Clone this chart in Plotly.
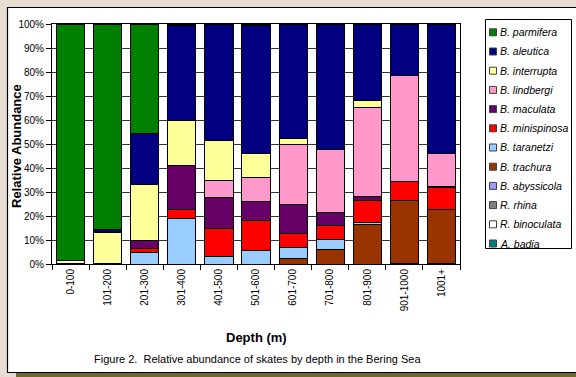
import plotly.graph_objects as go

categories = ["0-100", "101-200", "201-300", "301-400", "401-500", "501-600",
              "601-700", "701-800", "801-900", "901-1000", "1001+"]

species = ["B. parmifera", "B. aleutica", "B. interrupta", "B. lindbergi",
           "B. maculata", "B. minispinosa", "B. taranetzi", "B. trachura",
           "B. abyssicola", "R. rhina", "R. binoculata", "A. badia"]

parmifera   = [98.6, 85.6, 45.8, 0.7, 0.0, 0.6, 0.0, 0.0, 0.0, 0.0, 0.0]
aleutica    = [0.0, 1.4, 21.0, 39.3, 48.3, 53.3, 47.9, 52.1, 31.7, 21.5, 53.9]
interrupta  = [1.0, 12.6, 23.2, 19.0, 16.9, 10.1, 2.1, 0.0, 3.0, 0.0, 0.0]
lindbergi   = [0.0, 0.0, 0.0, 0.0, 6.9, 10.0, 25.1, 26.4, 37.2, 44.2, 14.0]
maculata    = [0.4, 0.4, 3.5, 18.1, 12.9, 8.0, 12.1, 5.5, 1.7, 0.0, 0.4]
minispinosa = [0.0, 0.0, 1.6, 3.9, 11.8, 12.4, 6.0, 5.7, 9.0, 7.9, 9.0]
taranetzi   = [0.0, 0.0, 4.9, 19.0, 3.1, 5.6, 4.4, 4.2, 0.9, 0.0, 0.0]
trachura    = [0.0, 0.0, 0.0, 0.0, 0.0, 0.0, 2.4, 6.1, 16.5, 26.1, 22.6]
abyssicola  = [0.0, 0.0, 0.0, 0.0, 0.0, 0.0, 0.0, 0.0, 0.0, 0.3, 0.3]
rhina       = [0.0] * 11
binoculata  = [0.0] * 11
badia       = [0.0] * 11

y_ticks = [0, 10, 20, 30, 40, 50, 60, 70, 80, 90, 100]
y_tick_labels = ["0%", "10%", "20%", "30%", "40%", "50%", "60%", "70%", "80%", "90%", "100%"]

colors = {
    "B. parmifera": "#008000", "B. aleutica": "#000080", "B. interrupta": "#FFFF99",
    "B. lindbergi": "#FF99CC", "B. maculata": "#660066", "B. minispinosa": "#FF0000",
    "B. taranetzi": "#99CCFF", "B. trachura": "#993300", "B. abyssicola": "#9999FF",
    "R. rhina": "#808080", "R. binoculata": "#FFFFFF", "A. badia": "#008080",
}
values = {
    "B. parmifera": parmifera, "B. aleutica": aleutica, "B. interrupta": interrupta,
    "B. lindbergi": lindbergi, "B. maculata": maculata, "B. minispinosa": minispinosa,
    "B. taranetzi": taranetzi, "B. trachura": trachura, "B. abyssicola": abyssicola,
    "R. rhina": rhina, "R. binoculata": binoculata, "A. badia": badia,
}

W, H = 576, 377
FONT = "Liberation Sans, Arial, sans-serif"

fig = go.Figure()
# stack from bottom (A. badia) to top (B. parmifera)
for name in reversed(species):
    fig.add_trace(go.Bar(
        x=categories, y=values[name], name=name, showlegend=False,
        marker=dict(color=colors[name], line=dict(color="#000000", width=1)),
    ))

px = lambda v: v / W
py = lambda v: 1 - v / H

shapes = [
    # shadow
    dict(type="rect", xref="paper", yref="paper", x0=px(16), x1=px(576), y0=py(377), y1=py(372),
         fillcolor="#6B6B30", line=dict(width=0), layer="below"),
    # white panel
    dict(type="rect", xref="paper", yref="paper", x0=px(7.5), x1=px(580), y0=py(372.5), y1=py(7.5),
         fillcolor="#FFFFFF", line=dict(color="#000000", width=1.2), layer="below"),
    # legend box
    dict(type="rect", xref="paper", yref="paper", x0=px(485.5), x1=px(571.5), y0=py(248.5), y1=py(19.5),
         fillcolor="#FFFFFF", line=dict(color="#000000", width=1)),
]

annotations = [
    dict(text="Figure 2.  Relative abundance of skates by depth in the Bering Sea",
         xref="paper", yref="paper", x=px(257), y=py(359), showarrow=False,
         font=dict(family=FONT, size=11, color="#000000"), xanchor="center", yanchor="middle"),
    dict(text="<b>Depth (m)</b>", xref="paper", yref="paper", x=px(256), y=py(337),
         showarrow=False, xanchor="center", yanchor="middle",
         font=dict(family=FONT, size=13, color="#000000")),
    dict(text="<b>Relative Abundance</b>", xref="paper", yref="paper", x=px(16), y=py(146),
         showarrow=False, xanchor="center", yanchor="middle", textangle=-90,
         font=dict(family=FONT, size=13, color="#000000")),
]

# legend entries (top to bottom)
for i, name in enumerate(species):
    yc = 32.3 + i * 19.2
    shapes.append(dict(type="rect", xref="paper", yref="paper",
                       x0=px(489.5), x1=px(496.5), y0=py(yc + 3.5), y1=py(yc - 3.5),
                       fillcolor=colors[name], line=dict(color="#404040", width=1)))
    annotations.append(dict(text="<i>" + name + "</i>", xref="paper", yref="paper",
                            x=px(498), y=py(yc), xanchor="left", yanchor="middle",
                            showarrow=False,
                            font=dict(family=FONT, size=10.5, color="#000000")))

fig.update_layout(
    width=W, height=H,
    margin=dict(l=0, r=0, t=0, b=0),
    paper_bgcolor="#E6DED2",
    plot_bgcolor="#FFFFFF",
    barmode="stack",
    barnorm="percent",
    bargap=0.24,
    showlegend=False,
    font=dict(family=FONT, size=11, color="#000000"),
    shapes=shapes,
    annotations=annotations,
    xaxis=dict(
        domain=[px(52), px(460)],
        automargin=False,
        type="category",
        tickangle=-90,
        tickson="boundaries",
        ticks="outside", ticklen=5, tickcolor="#000000",
        showline=True, linecolor="#000000", linewidth=1, mirror=True,
        showgrid=False,
        tickfont=dict(family=FONT, size=10),
    ),
    yaxis=dict(
        domain=[py(264), py(24)],
        automargin=False,
        range=[0, 100],
        tickmode="array",
        tickvals=y_ticks,
        ticktext=y_tick_labels,
        ticks="outside", ticklen=5, tickcolor="#000000",
        showline=True, linecolor="#000000", linewidth=1, mirror=True,
        showgrid=True, gridcolor="#333333", gridwidth=1,
        zeroline=False,
        tickfont=dict(family=FONT, size=10),
    ),
)

fig.write_html(
    "out.html",
    config={"displayModeBar": False},
    post_script="document.body.style.margin='0';document.body.style.overflow='hidden';",
)
